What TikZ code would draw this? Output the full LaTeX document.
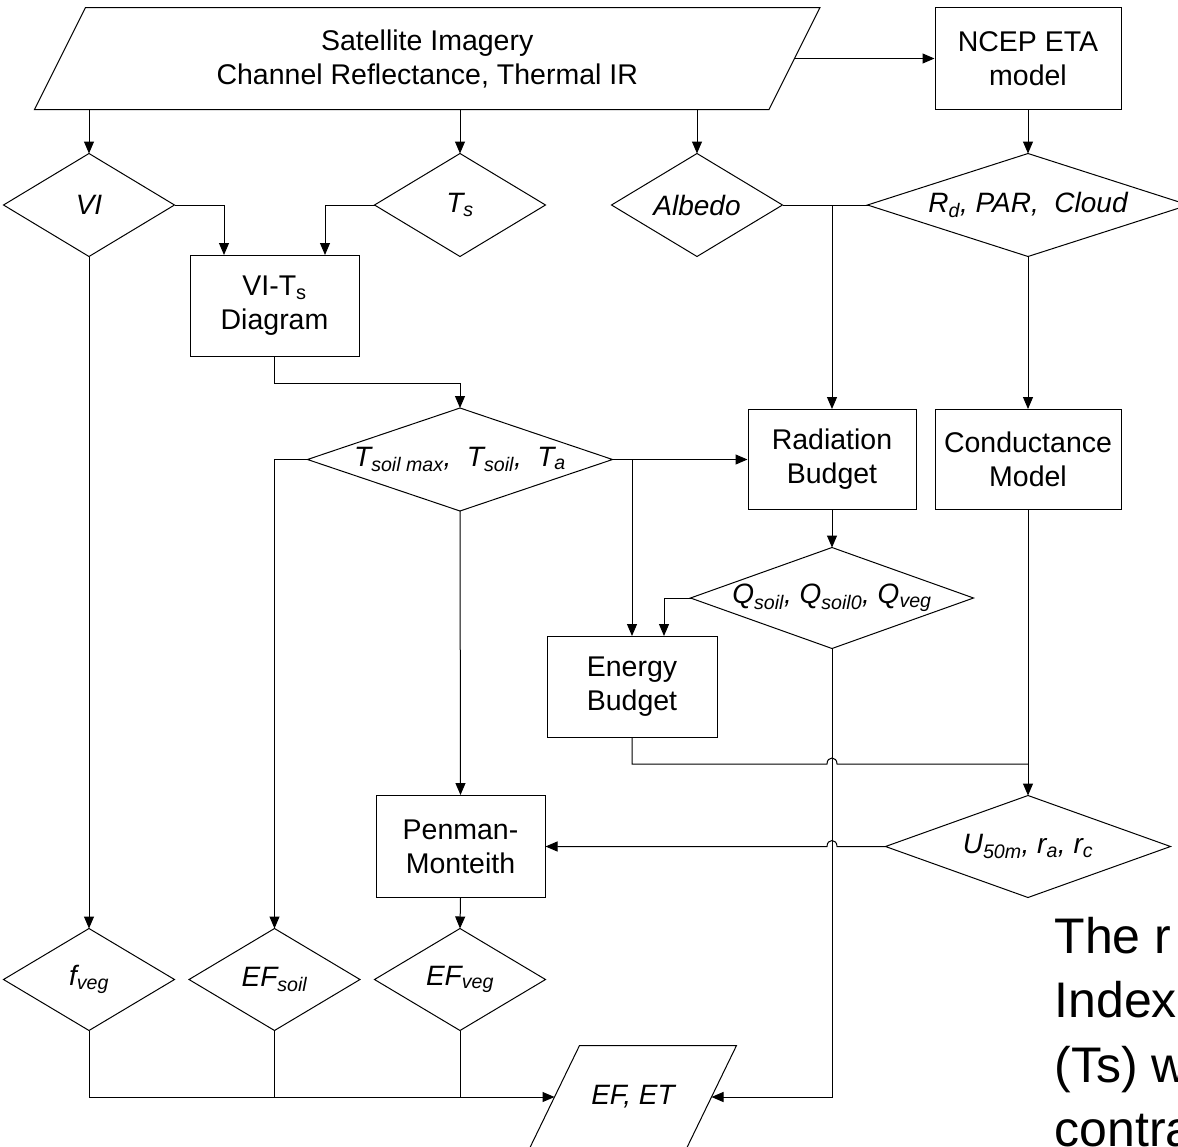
\documentclass[tikz,border=0pt]{standalone}
\usepackage{fontspec}
\setmainfont{Liberation Sans}
\usetikzlibrary{arrows.meta,calc}
\newcommand\sbs[1]{\textsubscript{#1}}
\newcommand\labf{\fontsize{28.5pt}{34pt}\selectfont}
\newcommand\dlabf{\fontsize{28pt}{34pt}\selectfont\itshape}
\newcommand\bigf{\fontsize{50pt}{64.5pt}\selectfont}
\begin{document}
\begin{tikzpicture}[x=1pt,y=-1pt,line width=1pt,
  every node/.style={inner sep=0pt, align=center},
  box/.style={draw, minimum width=169pt, minimum height=101pt, font=\labf},
  dia/.style={minimum width=#1, minimum height=102pt, font=\dlabf},
  dia/.default=170pt,
  arr/.style={-{Triangle[length=12pt,width=10pt]}},
  note/.style={anchor=base west, font=\bigf}]
\useasboundingbox (0,0) rectangle (1178,1146);
\clip (0,0) rectangle (1178,1146);

% nodes
\node[minimum width=733.5pt, minimum height=101pt, font=\labf] (sat) at (427.25,58.5) {Satellite Imagery\\Channel Reflectance, Thermal IR};
\node[box, minimum width=186pt, minimum height=102pt] (ncep) at (1028,58.5) {NCEP ETA\\model};
\node[dia] (vi) at (89,205) {VI};
\node[dia] (ts) at (460,205) {T\sbs{s}};
\node[dia] (alb) at (697,205) {Albedo};
\node[dia=320pt] (rd) at (1028,205) {R\sbs{d}, PAR,\ \ Cloud};
\node[box] (vits) at (274.5,306) {VI-T\sbs{s}\\Diagram};
\node[dia=304pt] (tsoil) at (460,459.5) {T\sbs{soil max},\ \ T\sbs{soil},\ \ T\sbs{a}};
\node[box, minimum width=168pt, minimum height=100pt] (rad) at (832,459.5) {Radiation\\Budget};
\node[box, minimum width=186pt, minimum height=100pt] (cond) at (1028,459.5) {Conductance\\Model};
\node[dia=282pt, minimum height=100pt] (q) at (832,598) {Q\sbs{soil}, Q\sbs{soil0}, Q\sbs{veg}};
\node[box, minimum width=170pt] (energy) at (632,687) {Energy\\Budget};
\node[dia=284pt, minimum height=101pt] (u) at (1028,846.5) {U\sbs{50m}, r\sbs{a}, r\sbs{c}};
\node[box, minimum height=102pt] (pm) at (460.5,846.5) {Penman-\\Monteith};
\node[dia, minimum height=101pt] (fveg) at (89,979.5) {f\sbs{veg}};
\node[dia, minimum height=101pt] (efsoil) at (274.5,979.5) {EF\sbs{soil}};
\node[dia, minimum height=101pt] (efveg) at (460,979.5) {EF\sbs{veg}};
\node[minimum width=156pt, minimum height=102pt, font=\dlabf] (efet) at (633,1097) {EF, ET};

\node[note] (n1) at (1054,953) {The r};
\node[note] (n2) at (1054,1017.5) {Index};
\node[note] (n3) at (1054,1082) {(Ts) w};
\node[note] (n4) at (1054,1146.5) {contra};

% shapes
\draw ($(sat.north west)+(25.5,0)$) -- ($(sat.north east)+(25.5,0)$) -- ($(sat.south east)+(-25.5,0)$) -- ($(sat.south west)+(-25.5,0)$) -- cycle;
\draw ($(efet.north west)+(25,0)$) -- ($(efet.north east)+(25,0)$) -- ($(efet.south east)+(-25,0)$) -- ($(efet.south west)+(-25,0)$) -- cycle;
\foreach \n in {vi,ts,alb,rd,tsoil,q,u,fveg,efsoil,efveg}
  \draw (\n.north) -- (\n.east) -- (\n.south) -- (\n.west) -- cycle;

% connectors
\draw[arr] (sat.east) -- (ncep.west);
\draw[arr] (vi.north |- sat.south) -- (vi.north);
\draw[arr] (ts.north |- sat.south) -- (ts.north);
\draw[arr] (alb.north |- sat.south) -- (alb.north);
\draw[arr] (ncep.south) -- (rd.north);
\draw[arr] (vi.east) -| ($(vits.north)+(-50.5,0)$);
\draw[arr] (ts.west) -| ($(vits.north)+(50.5,0)$);
\draw[arr] (vits.south) -- ++(0,26) -| (tsoil.north);
\draw (alb.east) -- (rd.west);
\draw[arr] (alb.east -| rad.north) -- (rad.north);
\draw[arr] (rd.south) -- (cond.north);
\draw[arr] (tsoil.east) -- (rad.west);
\draw[arr] (tsoil.east -| energy.north) -- (energy.north);
\draw[arr] (tsoil.west) -| (efsoil.north);
\draw[arr] (tsoil.south) -- (pm.north);
\draw[arr] (rad.south) -- (q.north);
\draw[arr] (q.west) -| ($(energy.north)+(32,0)$);
\draw[arr] (q.south) |- (efet.east);
\draw[arr] (cond.south) -- (u.north);
\draw (energy.south) -- ++(0,26) coordinate (e1) -- ($(e1 -| q.south)+(-5,0)$)
  .. controls +(0,-8) and +(0,-8) .. ($(e1 -| q.south)+(5,0)$) -- (e1 -| u.north);
\draw[arr] (u.west) -- ($(u.west -| q.south)+(5,0)$)
  .. controls +(0,-8) and +(0,-8) .. ($(u.west -| q.south)+(-5,0)$) -- (pm.east);
\draw[arr] (pm.south) -- (efveg.north);
\draw[arr] (vi.south) -- (fveg.north);
\draw[arr] (fveg.south) |- (efet.west);
\draw (efsoil.south) -- (efsoil.south |- efet.west);
\draw (efveg.south) -- (efveg.south |- efet.west);
\end{tikzpicture}
\end{document}
